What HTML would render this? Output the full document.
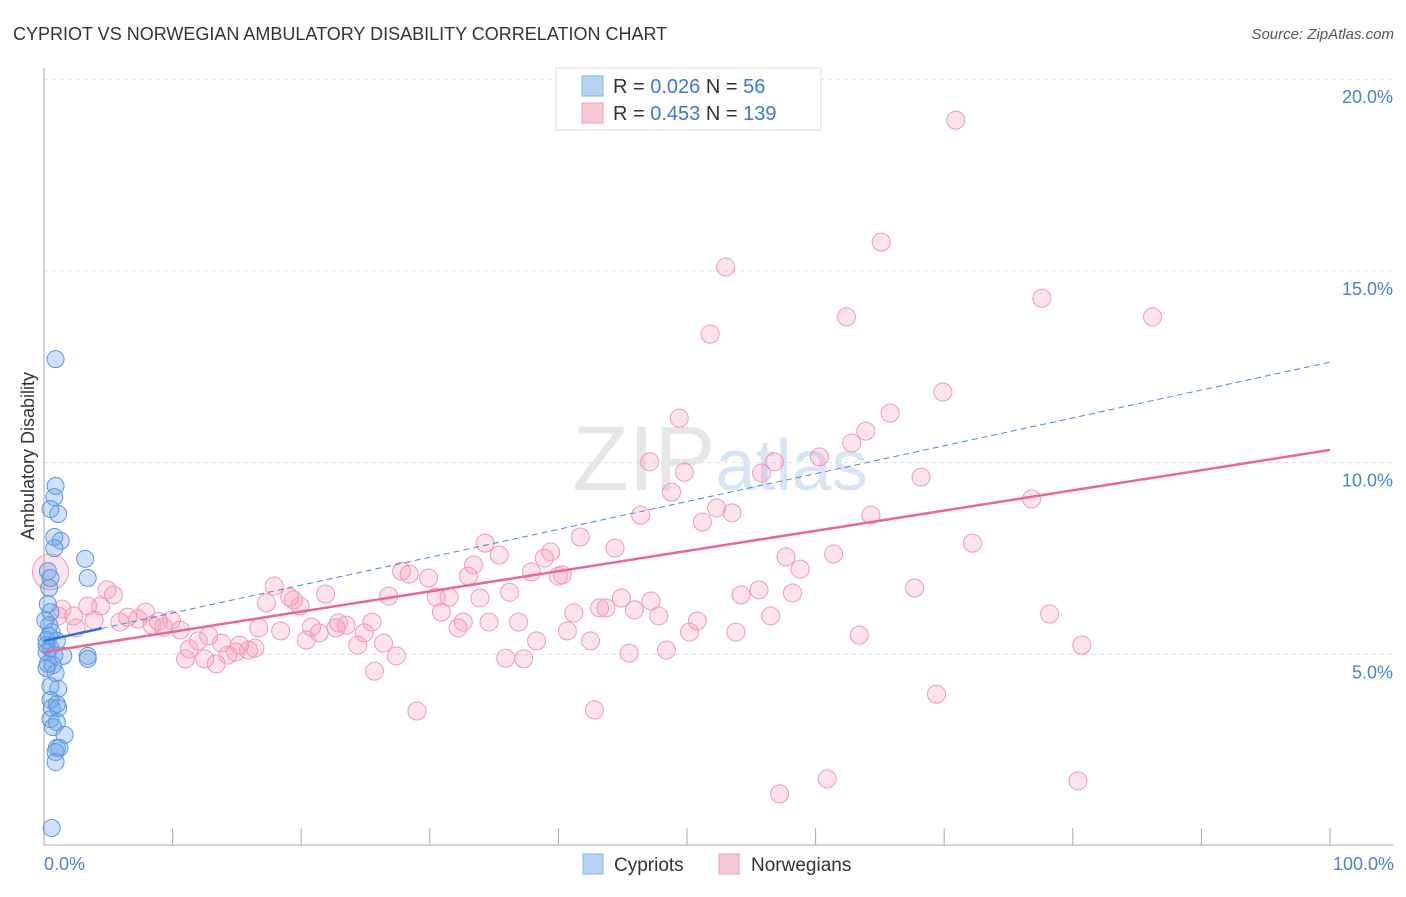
<!DOCTYPE html>
<html><head><meta charset="utf-8"><style>
body{margin:0;background:#fff;font-family:"Liberation Sans",sans-serif;}
svg text{font-family:"Liberation Sans",sans-serif;}
</style></head><body>
<svg id="chart" width="1406" height="892" xmlns="http://www.w3.org/2000/svg">
<text x="13" y="40" font-size="18" fill="#333">CYPRIOT VS NORWEGIAN AMBULATORY DISABILITY CORRELATION CHART</text>
<text x="1394" y="39" font-size="15" fill="#555" text-anchor="end" font-style="italic">Source: ZipAtlas.com</text>
<text x="720" y="490" font-size="92" fill="#e6e6e6" text-anchor="middle" font-family="Liberation Serif">ZIP<tspan fill="#d6e4f3" font-family="Liberation Sans" font-size="72">atlas</tspan></text>
<g id="grid"></g>
<g id="axes"></g>
<g id="pts"></g>
<g id="trend"></g>
<text transform="translate(34,456) rotate(-90)" font-size="18" fill="#333" text-anchor="middle">Ambulatory Disability</text>
<text x="44" y="870" font-size="18" fill="#4a7fd4">0.0%</text>
<text x="1394" y="870" font-size="18" fill="#4a7fd4" text-anchor="end">100.0%</text>
<g>
<rect x="556" y="68" width="265" height="62" fill="#fff" stroke="#ddd"/>
<rect x="582" y="76" width="21" height="20" fill="#b8d4f5" stroke="#7fb0ea"/>
<rect x="582" y="103" width="21" height="20" fill="#f9c6d5" stroke="#f19cb6"/>
<text x="613" y="93" font-size="20" fill="#333">R = <tspan fill="#3a78d6">0.026</tspan>   N =  <tspan fill="#3a78d6"> 56</tspan></text>
<text x="613" y="120" font-size="20" fill="#333">R = <tspan fill="#3a78d6">0.453</tspan>   N = <tspan fill="#3a78d6">139</tspan></text>
</g>
<g>
<rect x="583" y="854" width="20" height="20" fill="#b8d4f5" stroke="#7fb0ea"/>
<text x="614" y="871" font-size="19" fill="#333">Cypriots</text>
<rect x="719" y="854" width="20" height="20" fill="#f9c6d5" stroke="#f19cb6"/>
<text x="751" y="871" font-size="19" fill="#333">Norwegians</text>
</g>
</svg>
<script>
const yTicks=[5,10,15,20];
const yTickLabels=["5.0%","10.0%","15.0%","20.0%"];
const xTicks=[0,10,20,30,40,50,60,70,80,90,100];
const cypX=[0.9,0.9,0.8,1.1,0.5,0.8,1.3,0.8,3.2,0.3,0.5,3.4,0.4,0.3,0.5,0.4,0.6,1.0,0.2,0.5,0.2,0.8,1.5,3.4,3.4,0.3,0.7,0.9,0.5,1.1,0.5,1.0,0.6,1.1,0.5,1.0,0.7,1.6,1.0,1.2,0.9,0.9,0.6,0.2,0.4,0.1,0.2];
const cypY=[12.70,9.39,9.10,8.66,8.79,8.06,7.96,7.77,7.49,7.17,6.99,6.99,6.73,6.31,6.10,5.76,5.58,5.35,5.37,5.16,5.06,4.98,4.96,4.96,4.88,4.75,4.72,4.51,4.17,4.10,3.81,3.70,3.60,3.60,3.31,3.23,3.10,2.90,2.56,2.56,2.45,2.19,0.47,5.24,5.48,5.89,4.64];
const norX=[70.9,65.1,53.0,77.6,62.4,86.2,51.8,69.9,65.8,49.4,63.9,62.8,60.3,47.1,56.8,49.8,55.8,68.2,48.8,76.8,52.3,46.4,53.5,64.3,51.2,41.7,34.3,72.2,44.4,35.4,39.4,61.4,57.7,38.9,33.4,58.8,27.8,28.4,37.9,40.0,33.0,40.3,29.9,17.9,4.9,55.6,67.7,5.4,19.1,21.9,26.8,36.2,31.5,54.2,58.2,19.4,44.9,47.2,33.9,30.5,17.3,3.4,4.4,19.9,1.4,43.7,43.2,41.2,7.9,45.9,30.9,78.2,56.5,47.8,2.3,6.5,9.9,8.9,7.3,3.9,5.9,25.5,50.8,8.4,32.6,36.9,9.3,22.9,23.5,22.7,20.8,34.6,32.2,2.5,10.6,16.7,24.9,21.4,12.8,50.2,53.8,63.4,18.4,40.7,20.4,12.0,38.3,42.5,13.8,26.4,15.2,24.4,80.7,16.4,11.3,15.9,48.4,14.9,45.5,14.3,27.4,11.0,12.5,35.9,37.3,13.4,25.7,69.4,29.0,42.8,60.9,80.4,57.2,1.1];
const norY=[18.93,15.75,15.10,14.29,13.80,13.80,13.35,11.84,11.29,11.16,10.82,10.51,10.15,10.02,10.02,9.75,9.73,9.62,9.23,9.05,8.82,8.63,8.69,8.63,8.45,8.06,7.90,7.90,7.77,7.59,7.67,7.62,7.54,7.51,7.33,7.22,7.17,7.09,7.15,7.04,7.04,7.07,6.99,6.78,6.68,6.68,6.73,6.55,6.49,6.57,6.52,6.62,6.49,6.55,6.60,6.42,6.47,6.39,6.47,6.49,6.34,6.26,6.26,6.26,6.18,6.21,6.21,6.08,6.10,6.16,6.10,6.05,6.00,6.00,6.00,5.97,5.89,5.86,5.92,5.89,5.84,5.84,5.87,5.76,5.84,5.84,5.71,5.82,5.76,5.69,5.71,5.84,5.69,5.69,5.63,5.69,5.56,5.56,5.48,5.58,5.58,5.50,5.61,5.61,5.37,5.35,5.35,5.35,5.29,5.29,5.24,5.24,5.24,5.16,5.14,5.11,5.11,5.06,5.03,4.98,4.96,4.88,4.88,4.90,4.88,4.75,4.56,3.96,3.52,3.55,1.75,1.70,1.36,6.00];
const bigNor=[[0.5,7.15]];
const cypTrend=[5.35,12.62];
const norTrend=[5.06,10.33];
const NS="http://www.w3.org/2000/svg";
const X=v=>44+v*12.86;
const Y=v=>846-v*38.34;
function mk(parent,tag,attrs){const e=document.createElementNS(NS,tag);for(const k in attrs)e.setAttribute(k,attrs[k]);document.getElementById(parent).appendChild(e);return e;}
yTicks.forEach((t,i)=>{
 const l=mk('grid','line',{x1:44,x2:1393,y1:Y(t),y2:Y(t),stroke:'#ddd','stroke-dasharray':'4,4'});
 
 
 const tx=mk('grid','text',{x:1393,y:Y(t)+24,'font-size':18,fill:'#4a7fd4','text-anchor':'end'});
 tx.textContent=yTickLabels[i];
 
 
});
const ax=mk('axes','line',{x1:44,x2:1393,y1:845,y2:845,stroke:'#aaa'});


const ay=mk('axes','line',{x1:44,x2:44,y1:68,y2:845,stroke:'#aaa'});


xTicks.forEach(t=>{
 const l=mk('axes','line',{x1:X(t),x2:X(t),y1:828,y2:845,stroke:'#aaa'});
 
 
});
norX.forEach((x,i)=>{
 const c=mk('pts','circle',{cx:X(x),cy:Y(norY[i]),r:9,fill:'rgba(244,150,180,0.28)',stroke:'#f09ab5','stroke-width':1});
 
 
});
bigNor.forEach(p=>{
 const c=mk('pts','circle',{cx:X(p[0]),cy:Y(p[1]),r:18,fill:'rgba(244,150,180,0.28)',stroke:'#f09ab5'});
 
 
});
cypX.forEach((x,i)=>{
 const c=mk('pts','circle',{cx:X(x),cy:Y(cypY[i]),r:8.5,fill:'rgba(110,165,235,0.33)',stroke:'#5b97e0','stroke-width':1});
 
 
});
const yb=v=>cypTrend[0]+(cypTrend[1]-cypTrend[0])*v/100;
const l1=mk('trend','line',{x1:X(0),y1:Y(yb(0)),x2:X(4.5),y2:Y(yb(4.5)),stroke:'#2f6fd6','stroke-width':2.5});


const l2=mk('trend','line',{x1:X(4.5),y1:Y(yb(4.5)),x2:X(100),y2:Y(yb(100)),stroke:'#4a86e0','stroke-width':1,'stroke-dasharray':'6,4'});


const l3=mk('trend','line',{x1:X(0),y1:Y(norTrend[0]),x2:X(100),y2:Y(norTrend[1]),stroke:'#e8688f','stroke-width':2.5});


</script>
</body></html>
